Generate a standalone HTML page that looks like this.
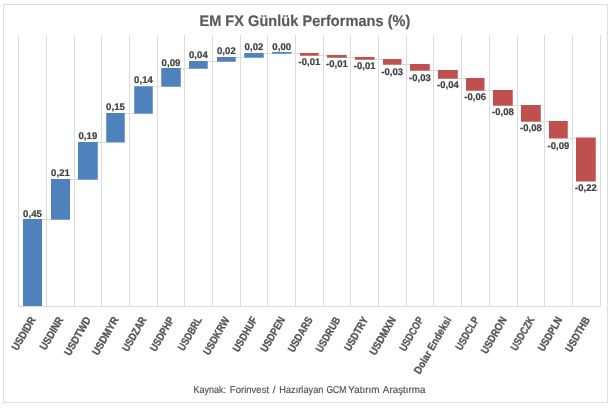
<!DOCTYPE html>
<html lang="tr">
<head>
<meta charset="utf-8">
<title>EM FX Günlük Performans (%)</title>
<style>
html,body{margin:0;padding:0;background:#fff;}
body{width:611px;height:408px;overflow:hidden;font-family:"Liberation Sans",sans-serif;}
svg{display:block;}
.t{font-family:"Liberation Sans",sans-serif;}
.b{font-weight:bold;}
</style>
</head>
<body>
<svg width="611" height="408" viewBox="0 0 611 408">
<rect x="0" y="0" width="611" height="408" fill="#ffffff"/>
<rect x="3.5" y="4.5" width="604" height="398" fill="#ffffff" stroke="#dedede" stroke-width="1"/>

<g stroke="#dcdcdc" stroke-width="1" shape-rendering="crispEdges">
<line x1="18.5" y1="35" x2="18.5" y2="306.5"/>
<line x1="46.5" y1="35" x2="46.5" y2="306.5"/>
<line x1="74.5" y1="35" x2="74.5" y2="306.5"/>
<line x1="101.5" y1="35" x2="101.5" y2="306.5"/>
<line x1="129.5" y1="35" x2="129.5" y2="306.5"/>
<line x1="157.5" y1="35" x2="157.5" y2="306.5"/>
<line x1="184.5" y1="35" x2="184.5" y2="306.5"/>
<line x1="212.5" y1="35" x2="212.5" y2="306.5"/>
<line x1="240.5" y1="35" x2="240.5" y2="306.5"/>
<line x1="267.5" y1="35" x2="267.5" y2="306.5"/>
<line x1="295.5" y1="35" x2="295.5" y2="306.5"/>
<line x1="323.5" y1="35" x2="323.5" y2="306.5"/>
<line x1="350.5" y1="35" x2="350.5" y2="306.5"/>
<line x1="378.5" y1="35" x2="378.5" y2="306.5"/>
<line x1="406.5" y1="35" x2="406.5" y2="306.5"/>
<line x1="433.5" y1="35" x2="433.5" y2="306.5"/>
<line x1="461.5" y1="35" x2="461.5" y2="306.5"/>
<line x1="489.5" y1="35" x2="489.5" y2="306.5"/>
<line x1="517.5" y1="35" x2="517.5" y2="306.5"/>
<line x1="544.5" y1="35" x2="544.5" y2="306.5"/>
<line x1="572.5" y1="35" x2="572.5" y2="306.5"/>
<line x1="600.5" y1="35" x2="600.5" y2="306.5"/>
<line x1="18" y1="306.5" x2="601" y2="306.5"/>
</g>
<g stroke="#d9d9d9" stroke-width="1">
<line x1="42" y1="219.5" x2="51" y2="219.5"/>
<line x1="70" y1="179.5" x2="78" y2="179.5"/>
<line x1="97.75" y1="142.5" x2="106.25" y2="142.5"/>
<line x1="124.75" y1="113.5" x2="134.25" y2="113.5"/>
<line x1="152.75" y1="86.75" x2="161.25" y2="86.75"/>
<line x1="180.75" y1="68.5" x2="189" y2="68.5"/>
<line x1="207.75" y1="61.5" x2="217" y2="61.5"/>
<line x1="235.75" y1="57.5" x2="244.25" y2="57.5"/>
<line x1="263.75" y1="53.5" x2="272" y2="53.5"/>
<line x1="291.5" y1="53.3" x2="300" y2="53.3"/>
<line x1="318.75" y1="55.5" x2="327" y2="55.5"/>
<line x1="346.75" y1="57.5" x2="355" y2="57.5"/>
<line x1="374.5" y1="59.5" x2="383" y2="59.5"/>
<line x1="401.5" y1="64.5" x2="410" y2="64.5"/>
<line x1="429.75" y1="70.5" x2="438" y2="70.5"/>
<line x1="457.75" y1="78.5" x2="466" y2="78.5"/>
<line x1="484.5" y1="90.5" x2="493" y2="90.5"/>
<line x1="512.75" y1="105.5" x2="521" y2="105.5"/>
<line x1="540.75" y1="121.5" x2="549" y2="121.5"/>
<line x1="567.75" y1="138.25" x2="576" y2="138.25"/>
</g>
<rect x="23" y="219" width="19" height="87" fill="#4f81bd"/>
<rect x="51" y="179" width="19" height="40.75" fill="#4f81bd"/>
<rect x="78" y="142" width="19.75" height="37.75" fill="#4f81bd"/>
<rect x="106.25" y="113" width="18.5" height="29.5" fill="#4f81bd"/>
<rect x="134.25" y="86.25" width="18.5" height="27.5" fill="#4f81bd"/>
<rect x="161.25" y="68" width="19.5" height="18.75" fill="#4f81bd"/>
<rect x="189" y="61" width="18.75" height="7.75" fill="#4f81bd"/>
<rect x="217" y="57" width="18.75" height="4.75" fill="#4f81bd"/>
<rect x="244.25" y="53" width="19.5" height="4.75" fill="#4f81bd"/>
<rect x="272" y="52" width="19.5" height="1.75" fill="#4f81bd"/>
<rect x="300" y="53" width="18.75" height="2.75" fill="#c0504d"/>
<rect x="327" y="55" width="19.75" height="2.75" fill="#c0504d"/>
<rect x="355" y="57" width="19.5" height="2.75" fill="#c0504d"/>
<rect x="383" y="59" width="18.5" height="5.75" fill="#c0504d"/>
<rect x="410" y="64" width="19.75" height="6.75" fill="#c0504d"/>
<rect x="438" y="70" width="19.75" height="8.75" fill="#c0504d"/>
<rect x="466" y="78" width="18.5" height="12.75" fill="#c0504d"/>
<rect x="493" y="90" width="19.75" height="15.75" fill="#c0504d"/>
<rect x="521" y="105" width="19.75" height="16.75" fill="#c0504d"/>
<rect x="549" y="121" width="18.75" height="17.5" fill="#c0504d"/>
<rect x="576" y="137.5" width="19.75" height="44.0" fill="#c0504d"/>
<g class="t b" font-size="9.6" fill="#404040" stroke="#404040" stroke-width="0.2" text-anchor="middle">
<text transform="translate(32.50,216.90) skewX(0.5)" textLength="18.8" lengthAdjust="spacingAndGlyphs">0,45</text>
<text transform="translate(60.50,175.60) skewX(0.5)" textLength="18.8" lengthAdjust="spacingAndGlyphs">0,21</text>
<text transform="translate(87.88,138.80) skewX(0.5)" textLength="18.8" lengthAdjust="spacingAndGlyphs">0,19</text>
<text transform="translate(115.50,109.70) skewX(0.5)" textLength="18.8" lengthAdjust="spacingAndGlyphs">0,15</text>
<text transform="translate(143.50,82.80) skewX(0.5)" textLength="18.8" lengthAdjust="spacingAndGlyphs">0,14</text>
<text transform="translate(171.00,66.20) skewX(0.5)" textLength="18.8" lengthAdjust="spacingAndGlyphs">0,09</text>
<text transform="translate(198.38,58.00) skewX(0.5)" textLength="18.8" lengthAdjust="spacingAndGlyphs">0,04</text>
<text transform="translate(226.38,53.70) skewX(0.5)" textLength="18.8" lengthAdjust="spacingAndGlyphs">0,02</text>
<text transform="translate(254.00,49.70) skewX(0.5)" textLength="18.8" lengthAdjust="spacingAndGlyphs">0,02</text>
<text transform="translate(281.75,49.70) skewX(0.5)" textLength="18.8" lengthAdjust="spacingAndGlyphs">0,00</text>
<text transform="translate(309.38,64.70) skewX(0.5)" textLength="21.8" lengthAdjust="spacingAndGlyphs">-0,01</text>
<text transform="translate(336.88,66.70) skewX(0.5)" textLength="21.8" lengthAdjust="spacingAndGlyphs">-0,01</text>
<text transform="translate(364.75,68.80) skewX(0.5)" textLength="21.8" lengthAdjust="spacingAndGlyphs">-0,01</text>
<text transform="translate(392.25,74.70) skewX(0.5)" textLength="21.8" lengthAdjust="spacingAndGlyphs">-0,03</text>
<text transform="translate(419.88,81.00) skewX(0.5)" textLength="21.8" lengthAdjust="spacingAndGlyphs">-0,03</text>
<text transform="translate(447.88,87.50) skewX(0.5)" textLength="21.8" lengthAdjust="spacingAndGlyphs">-0,04</text>
<text transform="translate(475.25,99.50) skewX(0.5)" textLength="21.8" lengthAdjust="spacingAndGlyphs">-0,06</text>
<text transform="translate(502.88,115.30) skewX(0.5)" textLength="21.8" lengthAdjust="spacingAndGlyphs">-0,08</text>
<text transform="translate(530.88,130.80) skewX(0.5)" textLength="21.8" lengthAdjust="spacingAndGlyphs">-0,08</text>
<text transform="translate(558.38,148.70) skewX(0.5)" textLength="21.8" lengthAdjust="spacingAndGlyphs">-0,09</text>
<text transform="translate(585.88,190.90) skewX(0.5)" textLength="21.8" lengthAdjust="spacingAndGlyphs">-0,22</text>
</g>
<g class="t b" font-size="10.8" fill="#555555" stroke="#555555" stroke-width="0.3" text-anchor="end">
<text transform="translate(35.96,319.5) rotate(-60) scale(0.889,1)" x="0" y="0">USDIDR</text>
<text transform="translate(63.67,319.5) rotate(-60) scale(0.874,1)" x="0" y="0">USDINR</text>
<text transform="translate(91.39,319.5) rotate(-60) scale(0.901,1)" x="0" y="0">USDTWD</text>
<text transform="translate(119.10,319.5) rotate(-60) scale(0.901,1)" x="0" y="0">USDMYR</text>
<text transform="translate(146.81,319.5) rotate(-60) scale(0.840,1)" x="0" y="0">USDZAR</text>
<text transform="translate(174.53,319.5) rotate(-60) scale(0.840,1)" x="0" y="0">USDPHP</text>
<text transform="translate(202.24,319.5) rotate(-60) scale(0.819,1)" x="0" y="0">USDBRL</text>
<text transform="translate(229.96,319.5) rotate(-60) scale(0.867,1)" x="0" y="0">USDKRW</text>
<text transform="translate(257.67,319.5) rotate(-60) scale(0.853,1)" x="0" y="0">USDHUF</text>
<text transform="translate(285.39,319.5) rotate(-60) scale(0.853,1)" x="0" y="0">USDPEN</text>
<text transform="translate(313.10,319.5) rotate(-60) scale(0.853,1)" x="0" y="0">USDARS</text>
<text transform="translate(340.81,319.5) rotate(-60) scale(0.836,1)" x="0" y="0">USDRUB</text>
<text transform="translate(368.53,319.5) rotate(-60) scale(0.844,1)" x="0" y="0">USDTRY</text>
<text transform="translate(396.24,319.5) rotate(-60) scale(0.901,1)" x="0" y="0">USDMXN</text>
<text transform="translate(423.96,319.5) rotate(-60) scale(0.815,1)" x="0" y="0">USDCOP</text>
<text transform="translate(451.67,319.5) rotate(-60) scale(0.887,1)" x="0" y="0">Dolar Endeksi</text>
<text transform="translate(479.39,319.5) rotate(-60) scale(0.820,1)" x="0" y="0">USDCLP</text>
<text transform="translate(507.10,319.5) rotate(-60) scale(0.867,1)" x="0" y="0">USDRON</text>
<text transform="translate(534.81,319.5) rotate(-60) scale(0.819,1)" x="0" y="0">USDCZK</text>
<text transform="translate(562.53,319.5) rotate(-60) scale(0.844,1)" x="0" y="0">USDPLN</text>
<text transform="translate(590.24,319.5) rotate(-60) scale(0.853,1)" x="0" y="0">USDTHB</text>
</g>
<text class="t b" transform="translate(304.9,25.7) skewX(0.5)" font-size="15.4" fill="#595959" stroke="#595959" stroke-width="0.15" text-anchor="middle" textLength="211" lengthAdjust="spacingAndGlyphs">EM FX Günlük Performans (%)</text>
<text class="t" transform="translate(0,392.8) skewX(0.5)" font-size="10" fill="#505050" stroke="#505050" stroke-width="0.15"><tspan x="193.4" textLength="32.7" lengthAdjust="spacingAndGlyphs">Kaynak:</tspan> <tspan x="229.8" textLength="39.3" lengthAdjust="spacingAndGlyphs">Forinvest</tspan> <tspan x="272.8">/</tspan> <tspan x="279.2" textLength="44.3" lengthAdjust="spacingAndGlyphs">Hazırlayan</tspan> <tspan x="326.4" textLength="20.1" lengthAdjust="spacingAndGlyphs">GCM</tspan> <tspan x="348.3" textLength="31.2" lengthAdjust="spacingAndGlyphs">Yatırım</tspan> <tspan x="382.8" textLength="42.8" lengthAdjust="spacingAndGlyphs">Araştırma</tspan></text>
</svg>
</body>
</html>
